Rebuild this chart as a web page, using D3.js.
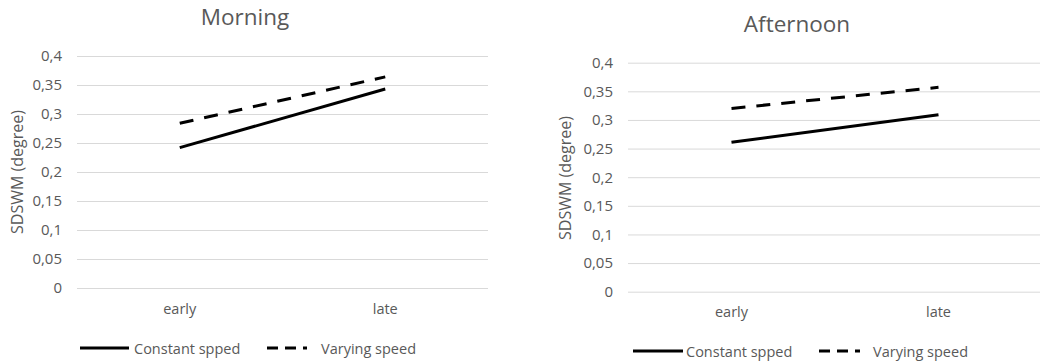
<!DOCTYPE html>
<html>
<head>
<meta charset="utf-8">
<script src="https://cdn.jsdelivr.net/npm/d3@7"></script>
<style>
  html, body { margin: 0; padding: 0; background: #fff; }
  svg { display: block; }
  text { font-family: "Open Sans", "Noto Sans", sans-serif; fill: #595959; }
</style>
</head>
<body>
<svg id="chart" width="1040" height="362"></svg>
<script>
// Categories and values (SDSWM, degrees)
const categories = ["early", "late"];
const seriesNames = ["Constant spped", "Varying speed"];
const morningConstant = [0.242, 0.343];
const morningVarying = [0.284, 0.364];
const afternoonConstant = [0.261, 0.309];
const afternoonVarying = [0.320, 0.357];
const yTicks = [0, 0.05, 0.1, 0.15, 0.2, 0.25, 0.3, 0.35, 0.4];
const yLabel = "SDSWM (degree)";

const fmt = v => String(+v.toFixed(2)).replace(".", ",");
const svg = d3.select("#chart");

function panel(o) {
  const g = svg.append("g");
  const x = d3.scaleBand().domain(categories).range([o.left, o.right]);
  const y = d3.scaleLinear().domain([0, 0.4]).range([o.bottom, o.top]);

  // Title
  g.append("text").attr("x", o.titleX).attr("y", o.titleY)
    .attr("text-anchor", "middle").style("font-size", "22.5px").text(o.title);

  // Gridlines and y ticks
  const yAxis = d3.axisLeft(y).tickValues(yTicks).tickFormat(fmt)
    .tickSize(-(o.right - o.left)).tickPadding(15);
  const ya = g.append("g").attr("transform", `translate(${o.left},0)`).call(yAxis);
  ya.select(".domain").remove();
  ya.selectAll(".tick line").attr("stroke", "#d9d9d9").attr("stroke-width", 1);
  ya.selectAll(".tick text").style("font-size", "15px").attr("fill", "#595959")
    .style("font-family", "'Open Sans', sans-serif");

  // Category labels
  const xAxis = d3.axisBottom(x).tickSize(0).tickPadding(o.xPad);
  const xa = g.append("g").attr("transform", `translate(0,${o.bottom})`).call(xAxis);
  xa.select(".domain").remove();
  xa.selectAll(".tick text").style("font-size", "14.5px").attr("fill", "#595959")
    .style("font-family", "'Open Sans', sans-serif");

  // Y axis title
  g.append("text")
    .attr("transform", `translate(${o.yLabelX},${o.yLabelY}) rotate(-90)`)
    .attr("text-anchor", "middle").attr("dominant-baseline", "central")
    .style("font-size", "16px").text(yLabel);

  const line = d3.line()
    .x((d, i) => x(categories[i]) + x.bandwidth() / 2)
    .y(d => y(d));

  g.append("path").datum(o.constant).attr("d", line)
    .attr("fill", "none").attr("stroke", "#000").attr("stroke-width", 3);
  g.append("path").datum(o.varying).attr("d", line)
    .attr("fill", "none").attr("stroke", "#000").attr("stroke-width", 3)
    .attr("stroke-dasharray", "14 11");

  // Legend
  const lg = g.append("g");
  lg.append("line").attr("x1", o.leg[0]).attr("x2", o.leg[1])
    .attr("y1", o.legY).attr("y2", o.legY)
    .attr("stroke", "#000").attr("stroke-width", 3);
  lg.append("text").attr("x", o.leg[2]).attr("y", o.legY)
    .attr("dominant-baseline", "central").style("font-size", "14.5px").text(seriesNames[0]);
  lg.append("line").attr("x1", o.leg[3]).attr("x2", o.leg[4])
    .attr("y1", o.legY).attr("y2", o.legY)
    .attr("stroke", "#000").attr("stroke-width", 3).attr("stroke-dasharray", "11 7");
  lg.append("text").attr("x", o.leg[5]).attr("y", o.legY)
    .attr("dominant-baseline", "central").style("font-size", "14.5px").text(seriesNames[1]);
}

panel({
  title: "Morning", titleX: 245, titleY: 25,
  left: 77, right: 488, top: 56, bottom: 288,
  xPad: 15.5, yLabelX: 17, yLabelY: 172,
  constant: morningConstant, varying: morningVarying,
  legY: 348, leg: [80, 129, 134, 267, 307, 321]
});

panel({
  title: "Afternoon", titleX: 797, titleY: 32,
  left: 628, right: 1042, top: 62.7, bottom: 291.7,
  xPad: 15, yLabelX: 565, yLabelY: 178,
  constant: afternoonConstant, varying: afternoonVarying,
  legY: 351, leg: [633, 683, 686, 819, 860, 873]
});
</script>
</body>
</html>
